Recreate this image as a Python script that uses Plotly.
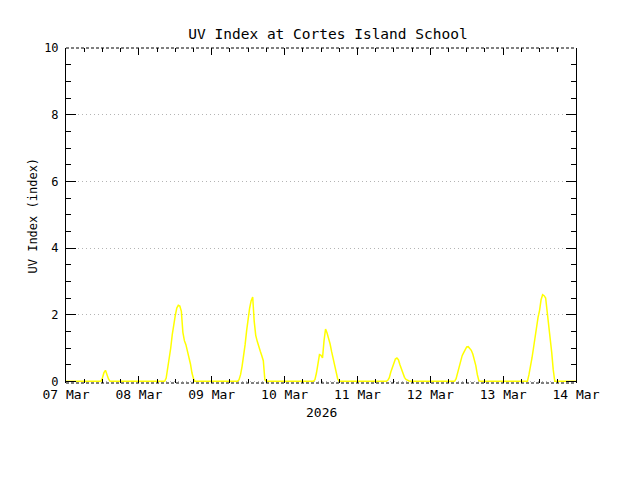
import pandas as pd
import plotly.graph_objects as go

# UV index readings, 30 minute steps, one daylight run per day
day_dates = ["2026-03-07", "2026-03-08", "2026-03-09", "2026-03-10",
             "2026-03-11", "2026-03-12", "2026-03-13"]
day_start = ["11:30", "08:30", "08:30", "09:30", "09:30", "08:00", "08:00"]

uv_07 = [0, 0.1, 0.26, 0.33, 0.18, 0.07, 0]
uv_08 = [0, 0.1, 0.4, 0.65, 1.0, 1.4, 1.75, 1.98, 2.2, 2.28, 2.26, 2.1,
         1.47, 1.22, 1.1, 0.92, 0.72, 0.52, 0.25, 0.08, 0]
uv_09 = [0, 0.05, 0.2, 0.45, 0.75, 1.1, 1.52, 1.88, 2.2, 2.42, 2.53, 1.8,
         1.38, 1.2, 1.0, 0.9, 0.77, 0.62, 0.05, 0]
uv_10 = [0, 0.05, 0.25, 0.48, 0.8, 0.78, 0.7, 1.22, 1.57, 1.45, 1.3, 1.12,
         0.89, 0.7, 0.52, 0.3, 0.07, 0]
uv_11 = [0, 0.03, 0.11, 0.28, 0.42, 0.57, 0.67, 0.7, 0.65, 0.5, 0.36, 0.22,
         0.12, 0.06, 0.03, 0.01, 0]
uv_12 = [0, 0.08, 0.25, 0.45, 0.63, 0.77, 0.86, 0.94, 1.03, 1.04, 0.99, 0.93,
         0.82, 0.68, 0.47, 0.2, 0.02, 0]
uv_13 = [0, 0.2, 0.42, 0.7, 1.0, 1.35, 1.68, 1.92, 2.13, 2.45, 2.6, 2.57,
         2.5, 2.12, 1.78, 1.3, 0.87, 0.35, 0]
day_values = [uv_07, uv_08, uv_09, uv_10, uv_11, uv_12, uv_13]

range_start = "2026-03-07 00:00"
range_end = "2026-03-14 00:00"
y_ticks = [0, 2, 4, 6, 8, 10]

times = [pd.Timestamp(range_start)]
uv = [0]
for d, s, vals in zip(day_dates, day_start, day_values):
    stamps = pd.date_range(d + " " + s, periods=len(vals), freq="30min")
    times.extend(stamps)
    uv.extend(vals)
times.append(pd.Timestamp(range_end))
uv.append(0)

MONO = "DejaVu Sans Mono"

fig = go.Figure()
fig.add_trace(go.Scatter(x=times, y=uv, mode="lines",
                         line=dict(color="#ffff00", width=1.5),
                         hoverinfo="skip"))

# the page body adds 8px, margins are set to allow for it
fig.update_layout(
    width=640, height=480,
    margin=dict(l=58, r=72, t=40, b=105),
    paper_bgcolor="white", plot_bgcolor="white",
    showlegend=False,
    font=dict(family=MONO, color="black", size=13),
    title=dict(text="UV Index at Cortes Island School", x=0.5, xanchor="center",
               y=1 - 26 / 480, yanchor="middle", yref="container",
               font=dict(family=MONO, size=14.5, color="black")),
)

fig.update_xaxes(
    type="date", range=[range_start, range_end],
    dtick=86400000, tick0=range_start, tickformat="%d %b",
    ticks="inside", ticklen=7, tickcolor="black", tickwidth=1,
    minor=dict(dtick=21600000, ticks="inside", ticklen=4, tickcolor="black"),
    showline=False, mirror="ticks", showgrid=False, zeroline=False,
    tickfont=dict(family=MONO, size=13, color="black"),
    ticklabelstandoff=2,
)

fig.update_yaxes(
    range=[-0.05, 10], tickvals=y_ticks,
    ticks="inside", ticklen=10, tickcolor="black", tickwidth=1,
    minor=dict(dtick=0.5, ticks="inside", ticklen=5, tickcolor="black",
               showgrid=False),
    showline=True, linecolor="black", linewidth=1, mirror="ticks",
    showgrid=True, gridcolor="#b4b4b4", griddash="1px,3px", gridwidth=1,
    zeroline=False,
    tickfont=dict(family=MONO, size=12, color="black"),
    ticklabelstandoff=4,
)

# dashed top and bottom frame, as in the original
for yp in (0, 1):
    fig.add_shape(type="line", xref="paper", yref="paper", x0=0, x1=1,
                  y0=yp, y1=yp, line=dict(color="black", width=1, dash="3px,2px"),
                  layer="above")

fig.add_annotation(text="UV Index (index)", xref="paper", yref="paper",
                   x=0, y=0.5, xanchor="center", xshift=-34, textangle=-90,
                   showarrow=False,
                   font=dict(family=MONO, size=12, color="black"))
fig.add_annotation(text="2026", xref="paper", yref="paper", x=0.5, y=0,
                   yanchor="middle", yshift=-29, showarrow=False,
                   font=dict(family=MONO, size=13, color="black"))

fig.write_html("out.html")
